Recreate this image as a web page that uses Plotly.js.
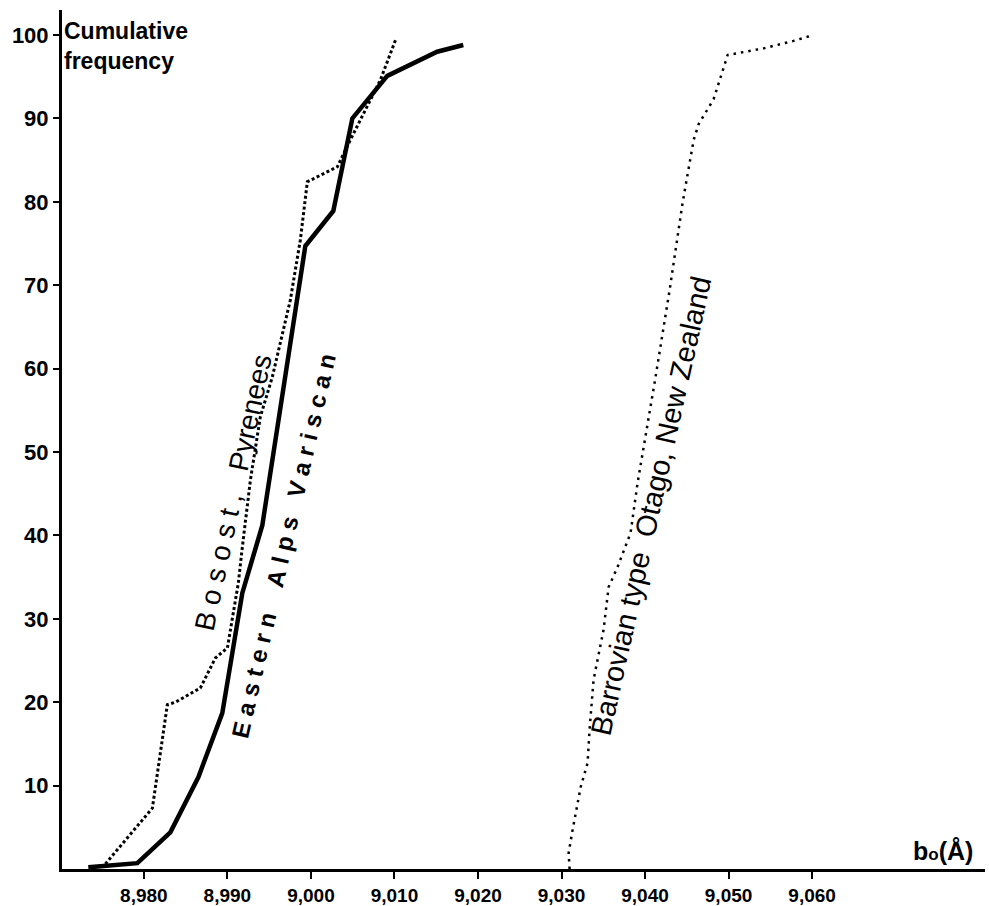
<!DOCTYPE html>
<html>
<head>
<meta charset="utf-8">
<script src="https://cdn.plot.ly/plotly-3.0.1.min.js"></script>
<style>
  html, body { margin: 0; padding: 0; background: #fff; }
  #chart { width: 989px; height: 906px; }
</style>
</head>
<body>
<div id="chart"></div>
<script>
// ---- Data ----
const xTickVals = [8.98, 8.99, 9.00, 9.01, 9.02, 9.03, 9.04, 9.05, 9.06];
const xTickText = ["8,980", "8,990", "9,000", "9,010", "9,020", "9,030", "9,040", "9,050", "9,060"];
const yTickVals = [10, 20, 30, 40, 50, 60, 70, 80, 90, 100];
const yTickText = ["10", "20", "30", "40", "50", "60", "70", "80", "90", "100"];

const easternAlpsX = [8.97335, 8.97922, 8.98317, 8.98652, 8.98939, 8.99179, 8.99418, 8.99933, 9.00268, 9.00496, 9.00914, 9.01512, 9.01824];
const easternAlpsY = [0.2, 0.7, 4.4, 11.0, 18.7, 33.1, 41.2, 74.7, 78.9, 90.0, 95.1, 98.0, 98.8];

const bosostX = [8.97539, 8.98102, 8.98281, 8.98377, 8.98676, 8.98856, 8.99000, 8.99131, 8.99179, 8.99275, 8.99394, 8.99538, 8.99753, 8.99873, 8.99957, 9.00316, 9.00471, 9.00651, 9.00831, 9.01013];
const bosostY = [0.6, 7.3, 19.7, 20.0, 21.7, 25.3, 26.5, 34.3, 38.6, 46.6, 54.2, 59.0, 68.2, 75.4, 82.4, 84.2, 87.4, 91.0, 94.6, 99.4];

const otagoX = [9.03097, 9.03085, 9.03133, 9.03229, 9.03312, 9.03336, 9.03384, 9.03504, 9.03564, 9.03671, 9.03827, 9.03911, 9.04126, 9.04294, 9.04450, 9.04582, 9.04641, 9.04821, 9.04989, 9.05419, 9.05778, 9.05982];
const otagoY = [0.0, 1.9, 4.7, 9.8, 12.7, 16.7, 22.7, 28.7, 33.8, 36.2, 40.3, 46.3, 59.0, 69.4, 79.9, 87.4, 89.3, 92.3, 97.6, 98.4, 99.3, 99.9];

const labelEastern = "E\u00A0a\u00A0s\u00A0t\u00A0e\u00A0r\u00A0n\u00A0\u00A0\u00A0\u00A0A\u00A0l\u00A0p\u00A0s\u00A0\u00A0\u00A0V\u00A0a\u00A0r\u00A0i\u00A0s\u00A0c\u00A0a\u00A0n";
const labelBosost = "B\u00A0o\u00A0s\u00A0o\u00A0s\u00A0t\u00A0,\u00A0\u00A0\u00A0Pyrenees";
const labelOtago = "Barrovian type\u00A0\u00A0Otago, New Zealand";

const FONT = "'Liberation Sans', Arial, Helvetica, sans-serif";

const traces = [
  { x: easternAlpsX, y: easternAlpsY, type: "scatter", mode: "lines",
    line: { color: "#000", width: 4.5, shape: "linear" }, hoverinfo: "skip", cliponaxis: false },
  { x: bosostX, y: bosostY, type: "scatter", mode: "lines",
    line: { color: "#000", width: 3, dash: "3px,2.5px" }, hoverinfo: "skip", cliponaxis: false },
  { x: otagoX, y: otagoY, type: "scatter", mode: "lines",
    line: { color: "#000", width: 2.5, dash: "2.5px,5px" }, hoverinfo: "skip", cliponaxis: false }
];

const layout = {
  width: 989, height: 906,
  margin: { l: 62, r: 4, t: 10, b: 37 },
  paper_bgcolor: "#fff", plot_bgcolor: "#fff",
  showlegend: false,
  font: { family: FONT, color: "#000" },
  xaxis: {
    range: [8.9702, 9.0807],
    tickmode: "array", tickvals: xTickVals, ticktext: xTickText,
    ticks: "outside", ticklen: 7, tickwidth: 2, tickcolor: "#000",
    ticklabelstandoff: 0,
    tickfont: { family: FONT, size: 19, color: "#000", weight: "bold" },
    showline: true, linecolor: "#000", linewidth: 3,
    showgrid: false, zeroline: false, fixedrange: true
  },
  yaxis: {
    range: [0, 103],
    tickmode: "array", tickvals: yTickVals, ticktext: yTickText,
    ticks: "outside", ticklen: 6, tickwidth: 2, tickcolor: "#000",
    ticklabelstandoff: 0,
    tickfont: { family: FONT, size: 22, color: "#000", weight: "bold" },
    showline: true, linecolor: "#000", linewidth: 3,
    showgrid: false, zeroline: false, fixedrange: true
  },
  annotations: [
    { xref: "paper", yref: "paper", x: 0, y: 1, xanchor: "left", yanchor: "top", xshift: 0, yshift: -6,
      text: "Cumulative<br>frequency", showarrow: false, align: "left",
      font: { family: FONT, size: 23, color: "#000", weight: "bold" } },
    { xref: "paper", yref: "y", x: 0.989, y: 2.2, xanchor: "right", yanchor: "middle",
      text: "b<span style=\"font-size:17px\">o</span>(Å)", showarrow: false,
      font: { family: FONT, size: 25, color: "#000", weight: "bold" } },
    { xref: "x", yref: "y", x: 8.99669, y: 38.7, text: labelEastern, showarrow: false, textangle: -77,
      font: { family: FONT, size: 24, color: "#000", weight: "bold" } },
    { xref: "x", yref: "y", x: 8.99075, y: 45.1, text: labelBosost, showarrow: false, textangle: -78,
      font: { family: FONT, size: 28, color: "#000" } },
    { xref: "x", yref: "y", x: 9.04073, y: 43.5, text: labelOtago, showarrow: false, textangle: -77.5,
      font: { family: FONT, size: 29, color: "#000" } }
  ]
};

Plotly.newPlot("chart", traces, layout, { staticPlot: true, displayModeBar: false });
</script>
</body>
</html>
